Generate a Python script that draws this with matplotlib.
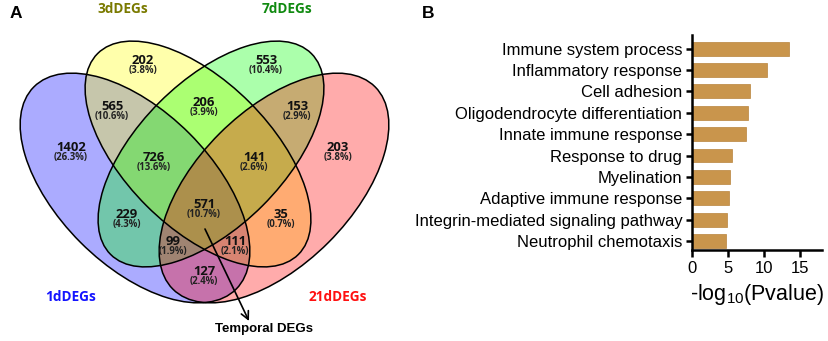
import matplotlib.pyplot as plt
from matplotlib.patches import Ellipse

# Venn data: counts for each region
set_names = ["1dDEGs", "3dDEGs", "7dDEGs", "21dDEGs"]
region_keys = ["1", "3", "7", "21",
               "1&3", "3&7", "7&21", "1&3&7", "3&7&21",
               "all", "1&7", "3&21", "1&7&21", "1&3&21", "1&21"]
region_counts = [1402, 202, 553, 203,
                 565, 206, 153, 726, 141,
                 571, 229, 35, 99, 111, 127]

# GO enrichment data
go_terms = ["Immune system process", "Inflammatory response", "Cell adhesion",
            "Oligodendrocyte differentiation", "Innate immune response",
            "Response to drug", "Myelination", "Adaptive immune response",
            "Integrin-mediated signaling pathway", "Neutrophil chemotaxis"]
go_logp = [13.5, 10.4, 8.0, 7.7, 7.5, 5.5, 5.2, 5.1, 4.9, 4.7]

# ---- layout (pixel coords of the venn panel) ----
ell_geom = {  # center x, center y, semi-major, semi-minor, angle
    "1dDEGs": (135, 188, 143, 77, 45),
    "3dDEGs": (198, 154, 142, 73, 45),
    "7dDEGs": (211, 154, 142, 73, -45),
    "21dDEGs": (274, 188, 143, 77, -45),
}
ell_cols = {"1dDEGs": "#0000ff", "3dDEGs": "#ffff00",
            "7dDEGs": "#00ff00", "21dDEGs": "#ff0000"}
name_pos = {"1dDEGs": (71, 297, "#1414ff"), "3dDEGs": (123, 9, "#7a7a00"),
            "7dDEGs": (287, 9, "#108a10"), "21dDEGs": (338, 297, "#ff1010")}
label_pos = {"1": (71, 148), "3": (143, 61), "7": (266, 61), "21": (338, 148),
             "1&3": (112, 107), "3&7": (204, 103), "7&21": (297, 107),
             "1&3&7": (154, 158), "3&7&21": (254, 158), "all": (204, 205),
             "1&7": (127, 215), "3&21": (281, 215), "1&7&21": (173, 242),
             "1&3&21": (235, 242), "1&21": (204, 272)}

W, H = 829, 341
fig = plt.figure(figsize=(W / 100, H / 100), dpi=100)
fig.patch.set_facecolor("white")

ax = fig.add_axes([0, 0, 420 / W, 1])
ax.set_xlim(0, 420)
ax.set_ylim(H, 0)
ax.axis("off")

# fills first, outlines on top
for nm in set_names:
    cx, cy, a, b, ang = ell_geom[nm]
    ax.add_patch(Ellipse((cx, cy), 2 * a, 2 * b, angle=ang,
                         facecolor=ell_cols[nm], alpha=0.33, edgecolor="none"))
for nm in set_names:
    cx, cy, a, b, ang = ell_geom[nm]
    ax.add_patch(Ellipse((cx, cy), 2 * a, 2 * b, angle=ang,
                         fill=False, edgecolor="black", lw=1.1))

total = sum(region_counts)
for key, n in zip(region_keys, region_counts):
    x, y = label_pos[key]
    ax.text(x, y - 0.5, str(n), ha="center", va="center", fontsize=9.4,
            fontweight="bold", family="Open Sans", color="#111111")
    ax.text(x, y + 9.5, f"({100 * n / total:.1f}%)", ha="center", va="center",
            fontsize=6.9, fontweight="bold", family="Open Sans", color="#222222")

for nm in set_names:
    x, y, c = name_pos[nm]
    ax.text(x, y, nm, ha="center", va="center", fontsize=9.8,
            fontweight="bold", family="Open Sans", color=c)

ax.annotate("", xy=(249, 321), xytext=(205, 229),
            arrowprops=dict(arrowstyle="->", lw=1.2, color="black",
                            mutation_scale=14, shrinkA=0, shrinkB=0))
ax.text(264, 329, "Temporal DEGs", ha="center", va="center", fontsize=9.5,
        fontweight="bold", family="Liberation Sans")

fig.text(10 / W, 1 - 14 / H, "A", ha="left", va="center", fontsize=12.5,
         fontweight="bold", family="Liberation Sans")
fig.text(428 / W, 1 - 14 / H, "B", ha="center", va="center", fontsize=12.5,
         fontweight="bold", family="Liberation Sans")

# ---- bar chart ----
bx = fig.add_axes([692 / W, 1 - 250 / H, 130 / W, 215 / H])
ypos = list(range(len(go_terms)))
bx.barh(ypos, go_logp, height=0.65, color="#c9954c", edgecolor="#b8843c", lw=0.5)
bx.set_yticks(ypos, go_terms)
bx.set_ylim(9.42, -0.64)
bx.set_xlim(0, 18)
bx.set_xticks([0, 5, 10, 15])
for s in ["top", "right"]:
    bx.spines[s].set_visible(False)
for s in ["left", "bottom"]:
    bx.spines[s].set_linewidth(1.8)
bx.tick_params(axis="y", length=4, width=1.8, pad=3)
bx.tick_params(axis="x", length=5, width=1.8, pad=3)
for lab in bx.get_yticklabels() + bx.get_xticklabels():
    lab.set_family("Liberation Sans")
    lab.set_fontsize(12)
bx.set_xlabel(r"-log$_{\mathregular{10}}$(Pvalue)", family="Liberation Sans",
              fontsize=15.5, labelpad=4)

fig.savefig("out.png", dpi=100, facecolor="white")
